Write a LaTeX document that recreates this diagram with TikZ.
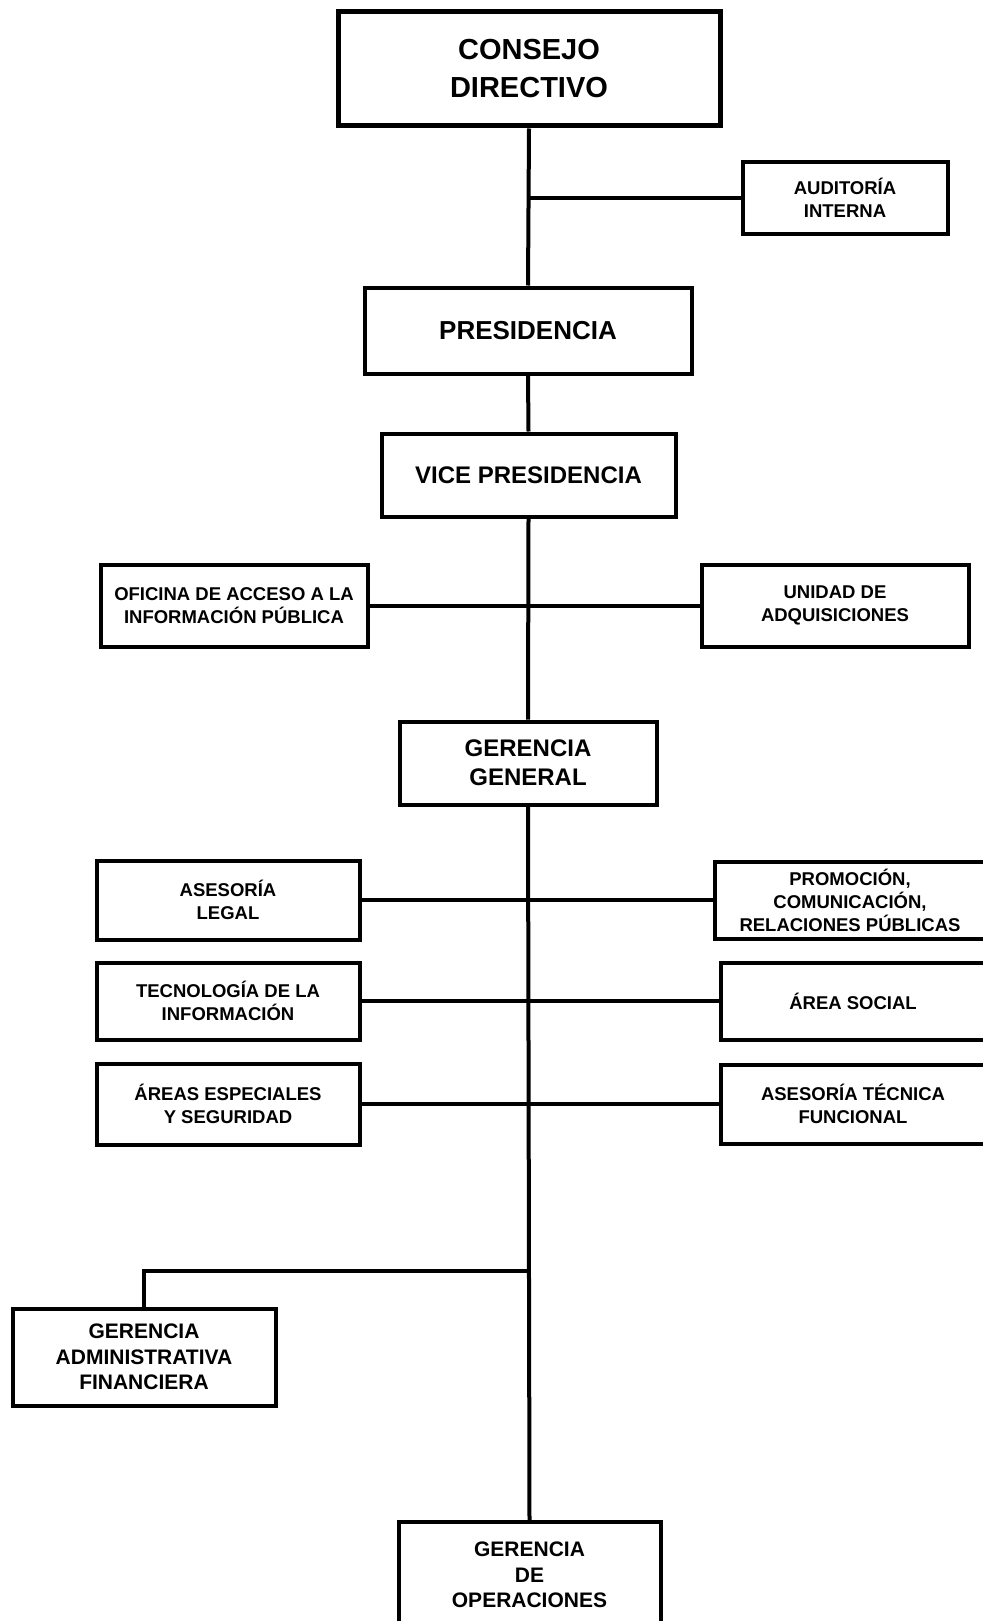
\documentclass[tikz,border=0pt]{standalone}
\usepackage{fontspec}
\setmainfont{Liberation Sans}
\newcommand{\fbig}{\fontsize{29}{38}\selectfont}
\newcommand{\fmid}{\fontsize{24}{29}\selectfont}
\newcommand{\fgsub}{\fontsize{21}{25.3}\selectfont}
\newcommand{\fsmall}{\fontsize{18.5}{23}\selectfont}
\begin{document}
\begin{tikzpicture}[x=1pt,y=-1pt]
        \tikzstyle{every node}+=[inner sep=0pt]
        \tikzstyle{unit}=[draw=black, line width=4pt, align=center, font=\bfseries]
        \tikzstyle{link}=[black, line width=4pt]
        \useasboundingbox (0,0) rectangle (982,1621);
        % cuerpos superiores
        \node [unit, line width=5pt, minimum width=382pt, minimum height=114pt, font=\bfseries\fbig] (consejo) at (529,69) {CONSEJO\\DIRECTIVO};
        \node [unit, minimum width=205pt, minimum height=72pt, font=\bfseries\fsmall] (auditoria) at (845,198) {AUDITORÍA\\INTERNA};
        \node [unit, minimum width=327pt, minimum height=86pt, font=\bfseries\fontsize{26}{30}\selectfont] (presidencia) at (528,330.5) {PRESIDENCIA};
        \node [unit, minimum width=294pt, minimum height=83pt, font=\bfseries\fmid] (vice) at (528.5,475) {VICE PRESIDENCIA};
        \node [unit, minimum width=267pt, minimum height=82pt, font=\bfseries\fsmall] (oficina) at (234,605.5) {OFICINA DE ACCESO A LA\\INFORMACIÓN PÚBLICA};
        \node [unit, minimum width=267pt, minimum height=82pt, font=\bfseries\fsmall] (unidad) at (835,605.5) {UNIDAD DE\\ADQUISICIONES};
        \node [unit, minimum width=257pt, minimum height=83pt, font=\bfseries\fmid] (general) at (528,763) {GERENCIA\\GENERAL};
        % asesorias y areas
        \node [unit, minimum width=263pt, minimum height=79pt, font=\bfseries\fsmall] (legal) at (228,900) {ASESORÍA\\LEGAL};
        \node [unit, minimum width=270pt, minimum height=77pt, font=\bfseries\fsmall] (promocion) at (850,900) {PROMOCIÓN,\\COMUNICACIÓN,\\RELACIONES PÚBLICAS};
        \node [unit, minimum width=263pt, minimum height=77pt, font=\bfseries\fsmall] (tecnologia) at (228,1001) {TECNOLOGÍA DE LA\\INFORMACIÓN};
        \node [unit, minimum width=264pt, minimum height=77pt, font=\bfseries\fsmall] (social) at (853,1001) {ÁREA SOCIAL};
        \node [unit, minimum width=263pt, minimum height=81pt, font=\bfseries\fsmall] (especiales) at (228,1104) {ÁREAS ESPECIALES\\Y SEGURIDAD};
        \node [unit, minimum width=264pt, minimum height=79pt, font=\bfseries\fsmall] (tecnica) at (853,1104) {ASESORÍA TÉCNICA\\FUNCIONAL};
        % gerencias de linea
        \node [unit, minimum width=263pt, minimum height=97pt, font=\bfseries\fgsub] (financiera) at (144,1357) {GERENCIA\\ADMINISTRATIVA\\FINANCIERA};
        \node [unit, minimum width=262pt, minimum height=106pt, font=\bfseries\fgsub] (operaciones) at (529.5,1575) {GERENCIA\\DE\\OPERACIONES};
        \coordinate (jAud) at (529,198);
        \coordinate (jFin) at (529,1271);
        % conectores
        \draw [link] (consejo.south) -- (presidencia.north);
        \draw [link] (presidencia.south) -- (vice.north);
        \draw [link] (vice.south) -- (general.north);
        \draw [link] (general.south) -- (operaciones.north);
        \draw [link] (jAud) -- (auditoria.west);
        \draw [link] (oficina.east) -- (unidad.west);
        \draw [link] (legal.east) -- (promocion.west);
        \draw [link] (tecnologia.east) -- (social.west);
        \draw [link] (especiales.east) -- (tecnica.west);
        \draw [link] (jFin) -| (financiera.north);
\end{tikzpicture}
\end{document}
